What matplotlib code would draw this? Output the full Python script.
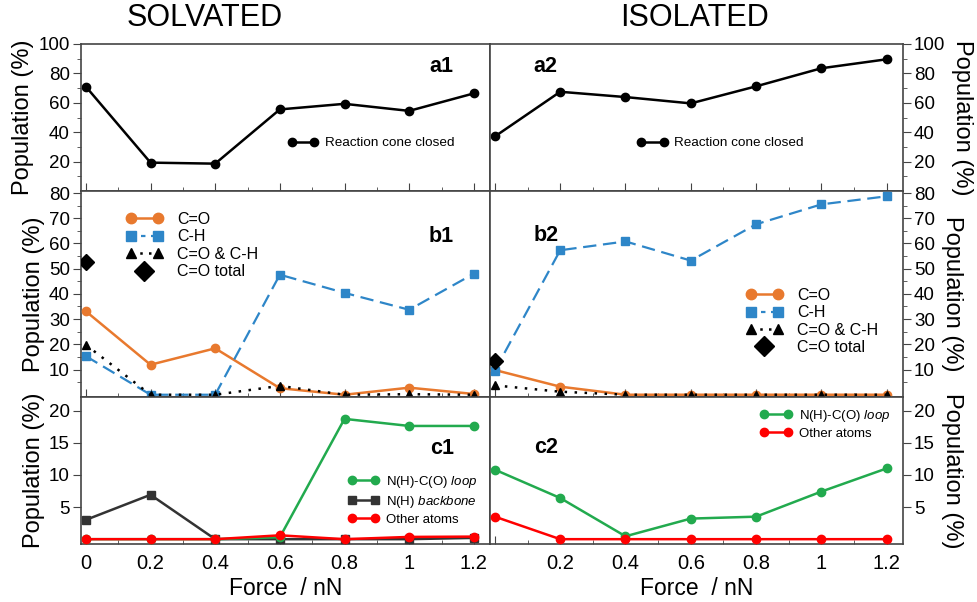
import numpy as np
import matplotlib
matplotlib.use('Agg')
import matplotlib.pyplot as plt
from matplotlib.lines import Line2D
from matplotlib.legend_handler import HandlerLine2D

plt.rcParams['font.family'] = ['Liberation Sans', 'DejaVu Sans']
plt.rcParams['mathtext.fontset'] = 'custom'
plt.rcParams['mathtext.rm'] = 'Liberation Sans'
plt.rcParams['mathtext.it'] = 'Liberation Sans:italic'

# DATA
force = [0, 0.2, 0.4, 0.6, 0.8, 1.0, 1.2]

# a: reaction cone closed
cone_solv = [71, 19.3, 18.6, 55.5, 59.3, 54.5, 66.4]
cone_iso = [37.1, 67.5, 63.9, 59.6, 71.2, 83.5, 89.6]

# b: attacked site
co_solv = [33.1, 11.9, 18.4, 2.6, 0, 2.8, 0.3]
ch_solv = [15.3, 0, 0, 47.6, 40.4, 33.7, 48.0]
coch_solv = [19.8, 0, 0, 3.5, 0, 0.2, 0]
cototal_solv = 52.6

co_iso = [9.8, 3.2, 0, 0, 0, 0, 0]
ch_iso = [9.6, 57.3, 60.8, 53.2, 67.6, 75.5, 78.7]
coch_iso = [3.7, 1.2, 0, 0, 0, 0, 0]
cototal_iso = 13.2

# c: other sites
loop_solv = [0, 0, 0, 0.3, 18.7, 17.6, 17.6]
backbone_solv = [3.0, 6.9, 0, 0, 0, 0, 0.2]
other_solv = [0, 0, 0, 0.6, 0, 0.35, 0.4]

loop_iso = [10.8, 6.4, 0.45, 3.2, 3.5, 7.4, 11.0]
other_iso = [3.5, 0, 0, 0, 0, 0, 0]

x_ticks = [0, 0.2, 0.4, 0.6, 0.8, 1.0, 1.2]
x_labels = ['0', '0.2', '0.4', '0.6', '0.8', '1', '1.2']

c_orange = '#E8792E'
c_blue = '#2E86C8'
c_green = '#22AA4E'
c_red = '#FF0000'
c_dark = '#333333'

# LAYOUT
fig = plt.figure(figsize=(9.78, 6.02), dpi=100)
W, H = 978, 602
xl = [81, 490]
xr = [490, 903]
rows = [(44, 191), (191, 397), (397, 544)]

def make_ax(xs, ys):
    return fig.add_axes([xs[0] / W, 1 - ys[1] / H, (xs[1] - xs[0]) / W, (ys[1] - ys[0]) / H])

axes = [[make_ax(xl, r), make_ax(xr, r)] for r in rows]

ylims = [(0, 100), (-0.9, 80.8), (-0.75, 22.1)]
yticks = [[20, 40, 60, 80, 100], [10, 20, 30, 40, 50, 60, 70, 80], [5, 10, 15, 20]]
yminor = [np.arange(10, 100, 20), np.arange(5, 80, 10), []]

for r in range(3):
    for c in range(2):
        ax = axes[r][c]
        ax.set_xlim(-0.015, 1.25)
        ax.set_ylim(*ylims[r])
        ax.set_xticks(x_ticks)
        ax.set_xticks(np.arange(0.1, 1.25, 0.2), minor=True)
        ax.set_yticks(yticks[r])
        ax.set_yticks(yminor[r], minor=True)
        for s in ax.spines.values():
            s.set_color('#444444')
            s.set_linewidth(1.2)
        ax.tick_params(axis='x', which='both', direction='in', top=False, color='#444444')
        ax.tick_params(axis='x', which='major', length=6, labelsize=14.5, pad=7)
        ax.tick_params(axis='x', which='minor', length=3)
        ax.tick_params(axis='y', which='both', direction='out', color='#444444', labelsize=13.5)
        ax.tick_params(axis='y', which='major', length=6, pad=2)
        ax.tick_params(axis='y', which='minor', length=3)
        if c == 1:
            ax.yaxis.tick_right()
            ax.yaxis.set_label_position('right')
            ax.set_ylabel('Population (%)', fontsize=17, rotation=270, labelpad=20)
        else:
            ax.set_ylabel('Population (%)', fontsize=17, labelpad=3)
        if r < 2:
            ax.set_xticklabels([])
        else:
            labels = list(x_labels)
            if c == 1:
                labels[0] = ''
            ax.set_xticklabels(labels)
            ax.set_xlabel('Force  / nN', fontsize=16.5, labelpad=3)

lw = 1.8
kw_leg = dict(frameon=False, loc='center left', borderaxespad=0, borderpad=0)

# a row
for c, data in enumerate([cone_solv, cone_iso]):
    ax = axes[0][c]
    ax.plot(force, data, color='black', lw=lw, marker='o', ms=6, label='Reaction cone closed')
    ax.legend(bbox_to_anchor=([0.505, 0.355][c], 0.325), fontsize=9.7, numpoints=2,
              handlelength=2.3, handletextpad=0.5, **kw_leg)

# b row
for c, (co, ch, coch, tot) in enumerate([(co_solv, ch_solv, coch_solv, cototal_solv),
                                          (co_iso, ch_iso, coch_iso, cototal_iso)]):
    ax = axes[1][c]
    ax.plot(force, coch, color='black', lw=1.8, ls=(0, (1, 3)), marker='^', ms=6, zorder=4)
    ax.plot(force, co, color=c_orange, lw=lw, marker='o', ms=6, zorder=3)
    ax.plot(force, ch, color=c_blue, lw=1.6, ls=(0, (6, 3)), marker='s', ms=5.5, zorder=3)
    ax.plot([0], [tot], color='black', ls='none', marker='D', ms=8.5, zorder=5)
    handles = [
        Line2D([], [], color=c_orange, lw=lw, marker='o', ms=7.5),
        Line2D([], [], color=c_blue, lw=1.6, ls=(0, (2, 2.5)), marker='s', ms=6.5),
        Line2D([], [], color='black', lw=1.8, ls=(0, (1, 2.5)), marker='^', ms=6.5),
        Line2D([], [], color='black', ls='none', marker='D', ms=10.5),
    ]
    labels = ['C=O', 'C-H', 'C=O & C-H', 'C=O total']
    ax.legend(handles, labels, bbox_to_anchor=([0.11, 0.62][c], [0.735, 0.367][c]),
              fontsize=11.5, numpoints=2, handlelength=2.3, handletextpad=0.9,
              labelspacing=0.15,
              handler_map={handles[3]: HandlerLine2D(numpoints=1)}, **kw_leg)

# c row
ax = axes[2][0]
ax.plot(force, backbone_solv, color=c_dark, lw=lw, marker='s', ms=6, zorder=3,
        label='N(H) $\\it{backbone}$')
ax.plot(force, loop_solv, color=c_green, lw=lw, marker='o', ms=6, zorder=4,
        label='N(H)-C(O) $\\it{loop}$')
ax.plot(force, other_solv, color=c_red, lw=lw, marker='o', ms=6, zorder=5,
        label='Other atoms')
h, l = ax.get_legend_handles_labels()
ax.legend([h[1], h[0], h[2]], [l[1], l[0], l[2]], bbox_to_anchor=(0.652, 0.30),
          fontsize=9.5, numpoints=2, handlelength=2.4, handletextpad=0.5,
          labelspacing=0.3, **kw_leg)

ax = axes[2][1]
ax.plot(force, loop_iso, color=c_green, lw=lw, marker='o', ms=6, zorder=4,
        label='N(H)-C(O) $\\it{loop}$')
ax.plot(force, other_iso, color=c_red, lw=lw, marker='o', ms=6, zorder=5,
        label='Other atoms')
ax.legend(bbox_to_anchor=(0.655, 0.818), fontsize=9.5, numpoints=2,
          handlelength=2.4, handletextpad=0.5, labelspacing=0.3, **kw_leg)

# panel tags
tags = [('a1', 0.88, 0.846), ('a2', 0.135, 0.846),
        ('b1', 0.88, 0.778), ('b2', 0.135, 0.783),
        ('c1', 0.884, 0.651), ('c2', 0.135, 0.658)]
for i, (t, x, y) in enumerate(tags):
    axes[i // 2][i % 2].text(x, y, t, transform=axes[i // 2][i % 2].transAxes,
                             fontsize=15.5, fontweight='bold', ha='center', va='center')

fig.text(205 / W, 1 - 18 / H, 'SOLVATED', fontsize=22, ha='center', va='center')
fig.text(695 / W, 1 - 18 / H, 'ISOLATED', fontsize=22, ha='center', va='center')

fig.savefig('out.png', dpi=100)
